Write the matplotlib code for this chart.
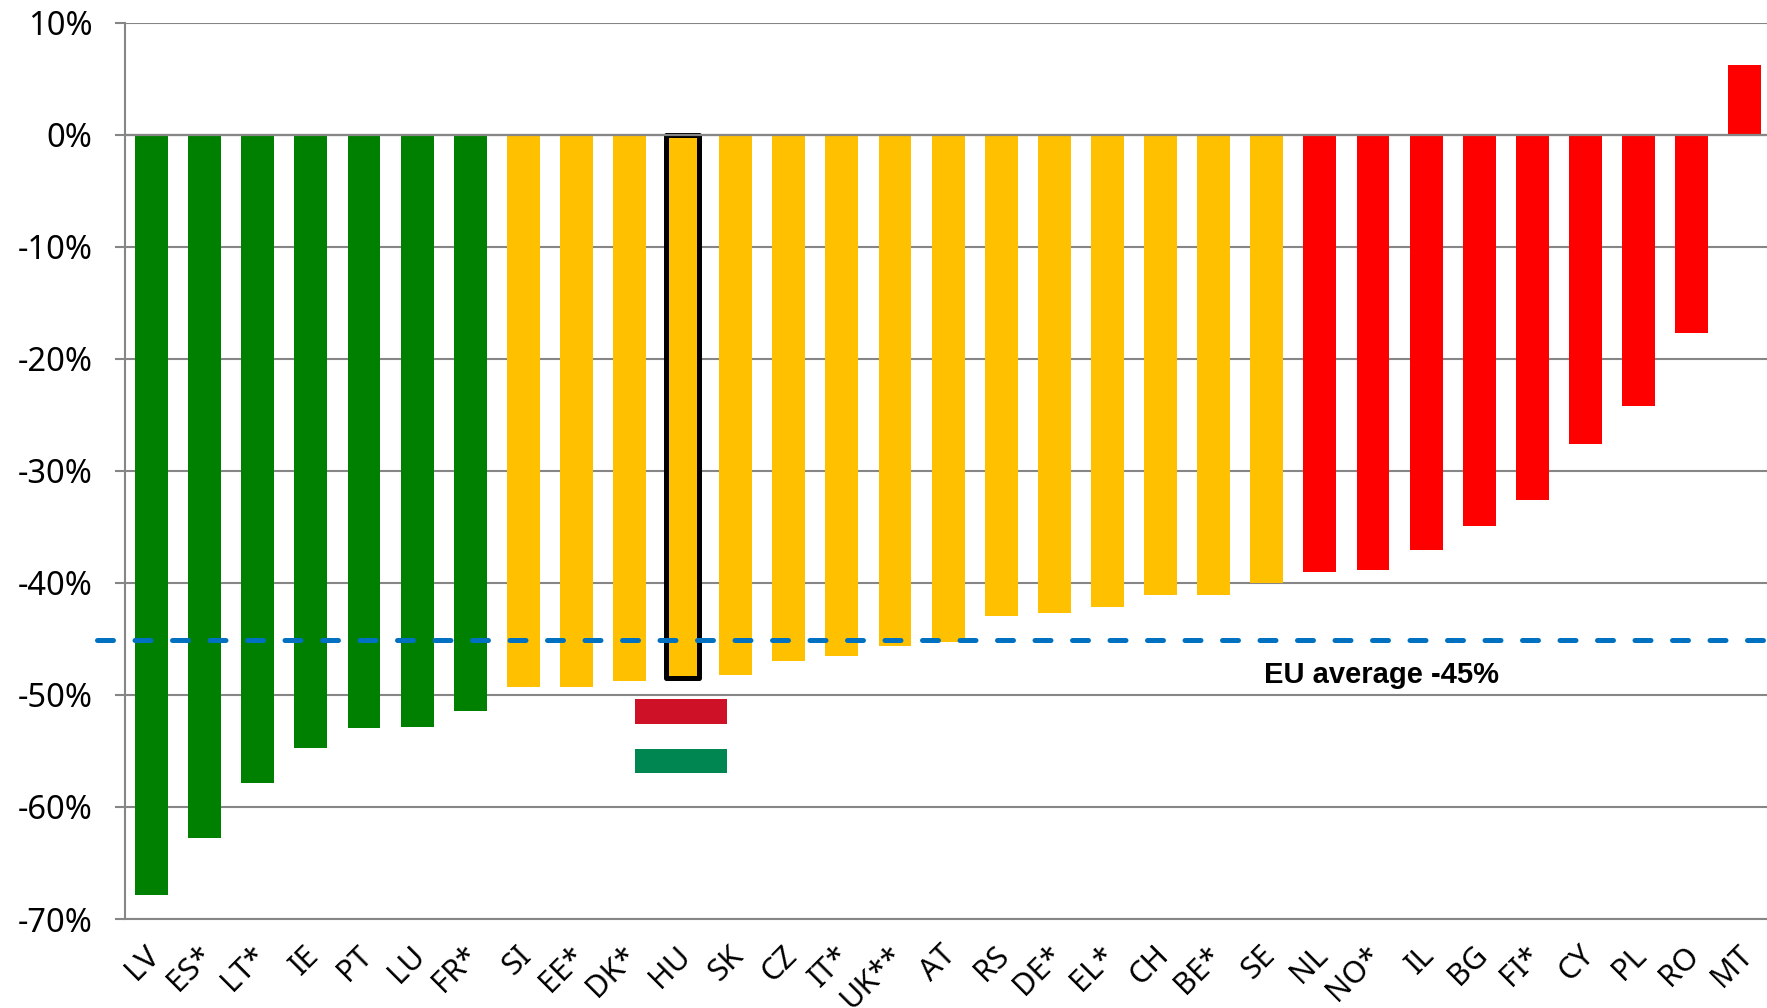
import matplotlib.pyplot as plt
from matplotlib.patches import Rectangle
from matplotlib.transforms import ScaledTranslation

countries = ['LV', 'ES*', 'LT*', 'IE', 'PT', 'LU', 'FR*', 'SI', 'EE*', 'DK*', 'HU', 'SK', 'CZ', 'IT*', 'UK**', 'AT',
             'RS', 'DE*', 'EL*', 'CH', 'BE*', 'SE', 'NL', 'NO*', 'IL', 'BG', 'FI*', 'CY', 'PL', 'RO', 'MT']
values = [-67.9, -62.8, -57.9, -54.7, -53.0, -52.9, -51.4, -49.3, -49.3, -48.8, -48.5, -48.2, -47.0, -46.5, -45.6, -45.3,
          -43.0, -42.7, -42.2, -41.1, -41.1, -40.0, -39.0, -38.9, -37.1, -34.9, -32.6, -27.6, -24.2, -17.7, 6.2]
n_green = 7
n_amber = 15
n_red = 9
y_ticks = [10, 0, -10, -20, -30, -40, -50, -60, -70]
eu_average = -45.1

GREY = '#868686'
colors = ['#008000'] * n_green + ['#FFC000'] * n_amber + ['#FF0000'] * n_red

plt.rcParams['lines.scale_dashes'] = False

W, H = 1767, 1008
fig = plt.figure(figsize=(W / 100, H / 100), dpi=100)
ax = fig.add_axes([125 / W, 1 - 919 / H, (W - 125) / W, (919 - 22.5) / H])

positions = list(range(len(values)))
bars = ax.bar(positions, values, width=0.62, color=colors, zorder=2)

# Hungary is outlined
hu = countries.index('HU')
bars[hu].set_edgecolor('black')
bars[hu].set_linewidth(3.6)
bars[hu].set_joinstyle('round')

# little flag under the HU bar
ax.add_patch(Rectangle((9.1, -52.58), 1.74, 2.22, facecolor='#CE1126', zorder=2))
ax.add_patch(Rectangle((9.1, -56.95), 1.74, 2.15, facecolor='#008751', zorder=2))

ax.axhline(0, color=GREY, lw=1.6, zorder=3)
ax.plot([-1.03, 30.42], [eu_average, eu_average], color='#0070C0', lw=3.6, dashes=(11.5, 15.5),
        dash_capstyle='round', zorder=4, clip_on=False)
ax.text(23.17, -48.2, 'EU average -45%', fontsize=21, fontweight='bold', family='Liberation Sans',
        ha='center', va='center', color='black')

ax.set_xlim(-0.5, 30.42)
ax.set_ylim(-70, 10)
ax.set_yticks(y_ticks)
ax.set_yticklabels([f'{t}%' for t in y_ticks], fontsize=23.5, family='Noto Sans')
ax.set_xticks(positions)
ax.set_xticklabels(countries, fontsize=22, family='Noto Sans', rotation=45, ha='right', va='center',
                   rotation_mode='anchor')
ax.tick_params(axis='x', length=0, pad=23)
ax.tick_params(axis='y', length=7.5, width=1.5, color=GREY, pad=16)
ax.yaxis.grid(True, color=GREY, lw=1.5, zorder=1)
ax.set_axisbelow(True)

# labels sit a little right of the tick position
shift = ScaledTranslation(3.5 / 100, 0, fig.dpi_scale_trans)
for label in ax.get_xticklabels():
    label.set_transform(label.get_transform() + shift)

for side in ['top', 'right']:
    ax.spines[side].set_visible(False)
ax.spines['left'].set_color(GREY)
ax.spines['left'].set_linewidth(1.5)
ax.spines['bottom'].set_color(GREY)
ax.spines['bottom'].set_linewidth(1.5)

fig.savefig('out.png', dpi=100)
